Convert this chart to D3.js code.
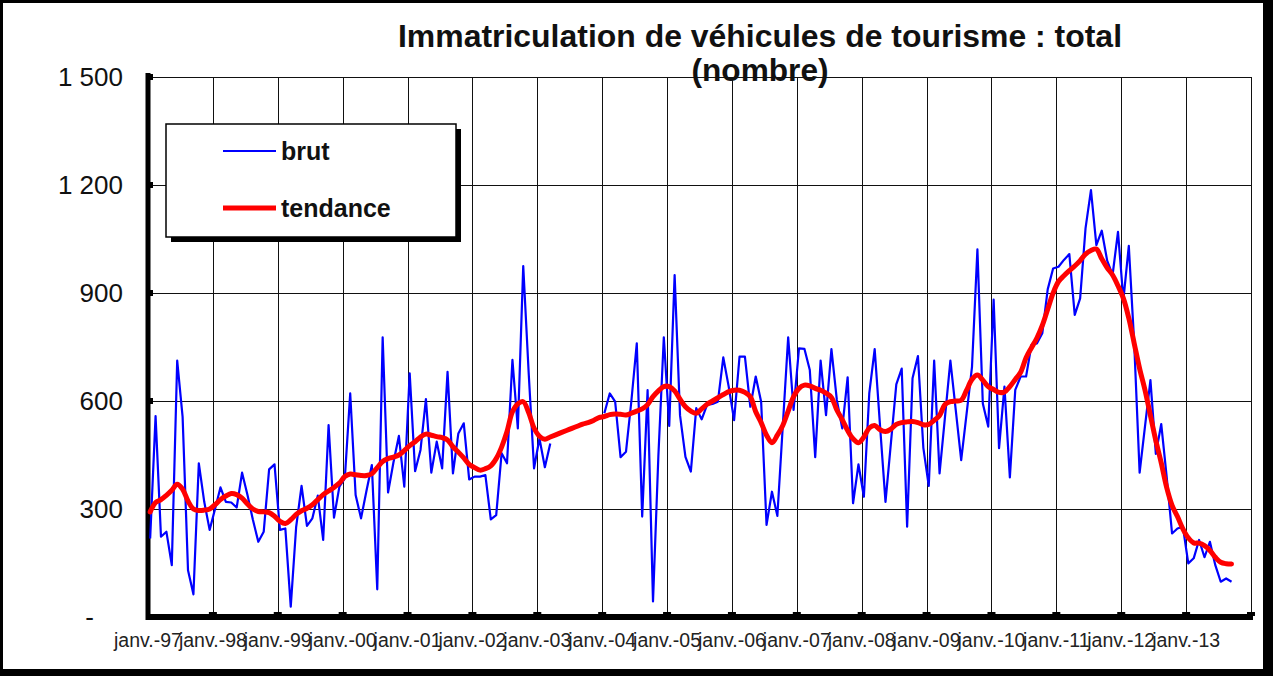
<!DOCTYPE html>
<html>
<head>
<meta charset="utf-8">
<script src="https://cdn.jsdelivr.net/npm/d3@7"></script>
<style>
  body { margin: 0; background: #fff; }
  svg { display: block; }
  text { font-family: "Liberation Sans", Arial, sans-serif; }
</style>
</head>
<body>
<svg id="chart" width="1273" height="676"></svg>
<script>
// Monthly series, janvier 1997 to septembre 2013
const yearLabels = ["janv.-97","janv.-98","janv.-99","janv.-00","janv.-01","janv.-02","janv.-03",
  "janv.-04","janv.-05","janv.-06","janv.-07","janv.-08","janv.-09","janv.-10","janv.-11","janv.-12","janv.-13"];

const yTickValues = [0, 300, 600, 900, 1200, 1500];
const yTickLabels = ["-", "300", "600", "900", "1 200", "1 500"];

const seriesNames = ["brut", "tendance"];

// raw registrations (null = no figure published)
const brut = [
  218, 558, 223, 237, 144, 712, 556, 130, 63, 427, 320, 242,        // 1997
  300, 360, 320, 318, 304, 401, 339, 270, 209, 237, 410, 424,       // 1998
  242, 246, 29, 250, 364, 253, 274, 337, 214, 533, 276, 362,        // 1999
  385, 621, 339, 274, 350, 422, 77, 777, 346, 430, 503, 362,        // 2000
  677, 405, 464, 605, 401, 487, 413, 681, 399, 510, 538, 382,       // 2001
  390, 390, 394, 271, 283, 455, 427, 714, 524, 975, 680, 413,       // 2002
  496, 416, 482, null, null, null, null, null, null, null, null, null, // 2003
  566, 621, 598, 444, 459, 600, 760, 279, 630, 43, 450, 777,        // 2004
  531, 950, 560, 445, 404, 580, 549, 589, 592, 598, 721, 640,       // 2005
  547, 723, 723, 584, 668, 598, 256, 348, 281, 530, 777, 575,       // 2006
  746, 745, 686, 444, 712, 561, 744, 603, 524, 666, 316, 424,       // 2007
  334, 621, 744, 529, 320, 483, 646, 690, 251, 663, 725, 470,       // 2008
  364, 712, 399, 555, 712, 574, 436, 565, 695, 1021, 593, 529,      // 2009
  882, 469, 640, 388, 631, 668, 668, 756, 760, 788, 910, 968,       // 2010
  973, 992, 1008, 839, 885, 1080, 1186, 1033, 1073, 990, 950, 1070, // 2011
  881, 1031, 760, 401, 530, 658, 453, 536, 390, 232, 246, 251,      // 2012
  149, 163, 214, 166, 209, 144, 98, 107, 98                         // 2013
];

// smoothed trend
const tendance = [
  292, 318, 326, 338, 352, 369, 355, 322, 300, 296, 297, 300,       // 1997
  312, 326, 336, 343, 340, 330, 314, 300, 293, 292, 290, 280,       // 1998
  266, 260, 270, 285, 295, 302, 312, 326, 340, 350, 360, 372,       // 1999
  390, 397, 395, 393, 393, 398, 415, 432, 440, 444, 450, 462,       // 2000
  476, 487, 500, 508, 505, 501, 498, 492, 473, 458, 442, 424,       // 2001
  415, 408, 412, 420, 440, 472, 515, 570, 592, 598, 568, 525,       // 2002
  502, 494, 500, 506, 512, 518, 524, 530, 536, 540, 546, 554,       // 2003
  557, 562, 564, 563, 561, 566, 572, 578, 590, 612, 628, 640,       // 2004
  640, 628, 605, 584, 572, 566, 578, 591, 600, 609, 618, 626,       // 2005
  630, 630, 624, 612, 570, 540, 505, 484, 505, 532, 572, 612,       // 2006
  635, 644, 642, 635, 630, 622, 610, 575, 548, 518, 495, 484,       // 2007
  500, 525, 532, 520, 515, 522, 535, 540, 542, 543, 540, 534,       // 2008
  535, 546, 560, 590, 598, 600, 602, 630, 660, 672, 658, 640,       // 2009
  632, 624, 625, 640, 660, 680, 720, 748, 775, 810, 855, 900,       // 2010
  932, 948, 962, 975, 990, 1008, 1018, 1022, 995, 970, 950, 920,    // 2011
  885, 830, 760, 690, 630, 560, 490, 428, 360, 310, 279, 245,       // 2012
  220, 206, 205, 198, 185, 166, 152, 148, 147                       // 2013
];

const W = 1273, H = 676;
const svg = d3.select("#chart");

// outer frame with a drop shadow on the right and bottom
svg.append("rect").attr("x", 0).attr("y", 0).attr("width", W).attr("height", H).attr("fill", "#000");
svg.append("rect").attr("x", 3).attr("y", 3).attr("width", 1260).attr("height", 666).attr("fill", "#fff");

const plot = { left: 148, right: 1251, top: 77, bottom: 617 };
const nMonths = yearLabels.length * 12;

const x = d3.scaleLinear().domain([0, nMonths]).range([plot.left, plot.right]);
const y = d3.scaleLinear().domain([0, 1500]).range([plot.bottom, plot.top]);
const pointOffset = 0.4; // points sit slightly after the start of each month

// grid
const grid = svg.append("g").attr("stroke", "#111").attr("stroke-width", 1.2).attr("shape-rendering", "crispEdges");
grid.selectAll("line.h").data(yTickValues.filter(v => v > 0)).join("line")
  .attr("x1", plot.left).attr("x2", plot.right)
  .attr("y1", d => Math.round(y(d)) + 0.5).attr("y2", d => Math.round(y(d)) + 0.5);
grid.selectAll("line.v").data(d3.range(1, yearLabels.length + 1)).join("line")
  .attr("x1", d => Math.round(x(d * 12)) + 0.5).attr("x2", d => Math.round(x(d * 12)) + 0.5)
  .attr("y1", plot.top).attr("y2", plot.bottom);

// thick axes
svg.append("line").attr("x1", plot.left).attr("x2", plot.left)
  .attr("y1", plot.top - 4).attr("y2", plot.bottom + 3)
  .attr("stroke", "#000").attr("stroke-width", 5);
svg.append("line").attr("x1", plot.left - 2).attr("x2", plot.right + 2)
  .attr("y1", plot.bottom).attr("y2", plot.bottom)
  .attr("stroke", "#000").attr("stroke-width", 6);

// tick marks on the axes
svg.append("g").selectAll("rect").data(d3.range(1, yearLabels.length + 1)).join("rect")
  .attr("x", d => x(d * 12) - 4).attr("y", plot.bottom - 5).attr("width", 8).attr("height", 4).attr("fill", "#000");
svg.append("g").selectAll("rect").data(yTickValues.filter(v => v > 0)).join("rect")
  .attr("x", plot.left).attr("y", d => y(d) - 3).attr("width", 5).attr("height", 6).attr("fill", "#000");

// y labels
svg.append("g").selectAll("text").data(yTickValues).join("text")
  .attr("x", (d, i) => d === 0 ? 94 : 123)
  .attr("y", d => y(d) + 9)
  .attr("text-anchor", "end")
  .attr("font-size", 26)
  .attr("fill", "#111")
  .text((d, i) => yTickLabels[i]);

// x labels
svg.append("g").selectAll("text").data(yearLabels).join("text")
  .attr("x", (d, i) => x(i * 12))
  .attr("y", 647)
  .attr("text-anchor", "middle")
  .attr("font-size", 19.5)
  .attr("fill", "#222")
  .text(d => d);

// series
const lineBrut = d3.line()
  .defined(d => d != null)
  .x((d, i) => x(i + pointOffset))
  .y(d => y(d));
svg.append("path").datum(brut)
  .attr("fill", "none").attr("stroke", "#0000ff").attr("stroke-width", 2.2)
  .attr("stroke-linejoin", "round")
  .attr("d", lineBrut);

const lineTrend = d3.line()
  .x((d, i) => x(i + pointOffset))
  .y(d => y(d))
  .curve(d3.curveCatmullRom.alpha(0.5));
svg.append("path").datum(tendance)
  .attr("fill", "none").attr("stroke", "#ff0000").attr("stroke-width", 5)
  .attr("stroke-linejoin", "round").attr("stroke-linecap", "round")
  .attr("d", lineTrend);

// title
const title = svg.append("g").attr("font-weight", "bold").attr("fill", "#111")
  .attr("text-anchor", "middle").style("white-space", "pre");
title.append("text").attr("x", 760).attr("y", 47).attr("font-size", 32)
  .attr("textLength", 724).attr("lengthAdjust", "spacingAndGlyphs")
  .text("Immatriculation  de véhicules de tourisme : total");
title.append("text").attr("x", 760).attr("y", 81).attr("font-size", 32)
  .attr("textLength", 137).attr("lengthAdjust", "spacingAndGlyphs")
  .text("(nombre)");

// legend
const lg = svg.append("g");
lg.append("rect").attr("x", 171).attr("y", 129).attr("width", 290).attr("height", 113).attr("fill", "#000");
lg.append("rect").attr("x", 166).attr("y", 124).attr("width", 290).attr("height", 113)
  .attr("fill", "#fff").attr("stroke", "#000").attr("stroke-width", 1.5);
const legendRows = [
  { name: seriesNames[0], color: "#0000ff", width: 2, y: 151 },
  { name: seriesNames[1], color: "#ff0000", width: 5, y: 208 }
];
legendRows.forEach(r => {
  lg.append("line").attr("x1", 223).attr("x2", 276).attr("y1", r.y).attr("y2", r.y)
    .attr("stroke", r.color).attr("stroke-width", r.width);
  lg.append("text").attr("x", 281).attr("y", r.y + 8.5)
    .attr("font-size", 25).attr("font-weight", "bold").attr("fill", "#111")
    .text(r.name);
});
</script>
</body>
</html>
